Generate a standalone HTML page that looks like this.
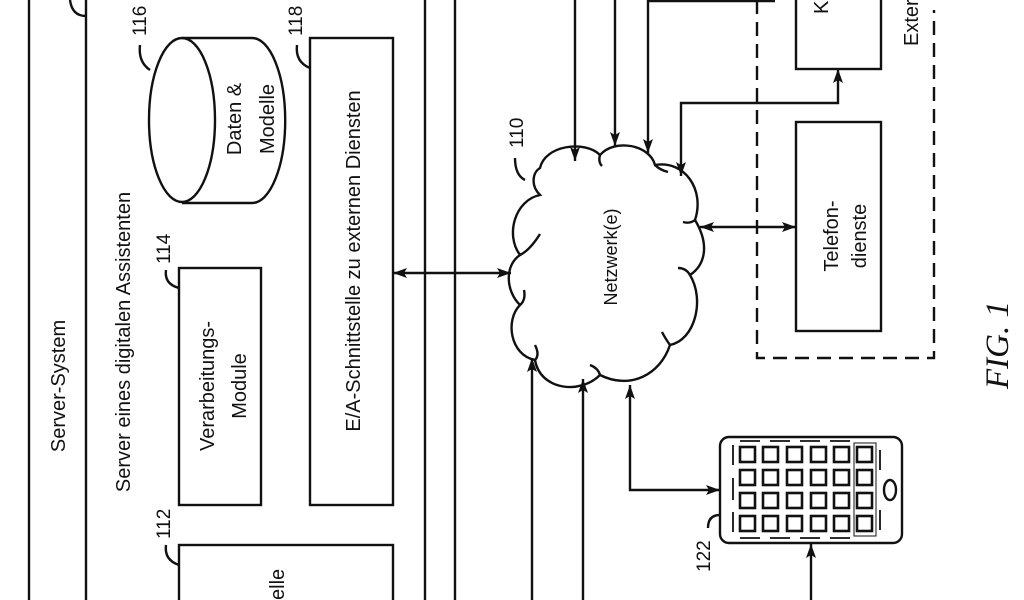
<!DOCTYPE html>
<html><head><meta charset="utf-8"><style>
html,body{margin:0;padding:0;background:#fff;}
svg{display:block;}
text{font-family:"Liberation Sans",sans-serif;fill:#111;}
</style></head><body>
<svg width="1024" height="600" viewBox="0 0 1024 600" xmlns="http://www.w3.org/2000/svg">
<defs>
<marker id="a" viewBox="0 0 14 10" refX="14" refY="5" markerWidth="14" markerHeight="10" markerUnits="userSpaceOnUse" orient="auto-start-reverse">
<path d="M0,0 L14,5 L0,10 L3,5 z" fill="#111"/></marker>
</defs>
<g stroke="#111" stroke-width="2.4" fill="none">
<line x1="29" y1="0" x2="29" y2="600"/>
<line x1="86" y1="0" x2="86" y2="600"/>
<path d="M70,0 Q72,16 86,16"/>
<line x1="425" y1="0" x2="425" y2="600"/>
<line x1="455" y1="0" x2="455" y2="600"/>
<path d="M182,38 L252,38 A33,82 0 0 1 252,203 L182,203"/>
<ellipse cx="182" cy="120" rx="33" ry="82"/>
<path d="M150,70 Q138,62 140,45"/>
<rect x="179" y="268" width="82" height="237"/>
<path d="M179,288 Q164,284 166,270"/>
<rect x="310" y="38" width="83" height="467"/>
<path d="M310,68 Q295,62 297,45"/>
<rect x="179" y="545" width="214" height="70"/>
<path d="M179,565 Q164,560 166,545"/>
<line x1="393" y1="273" x2="511" y2="273" marker-start="url(#a)" marker-end="url(#a)"/>
<path d="M540,168 C545,145 585,140 600,155 C615,138 650,145 655,165 C685,160 705,190 695,220 C710,245 705,265 690,275 C705,300 695,340 670,345 C660,375 630,390 600,375 C580,395 540,390 535,360 C510,355 505,320 520,305 C505,290 505,265 520,255 C505,235 515,200 540,195 C530,185 533,172 540,168 Z"/>
<path d="M600,155 Q598,162 602,166"/>
<path d="M655,165 Q660,170 668,172"/>
<path d="M695,220 Q690,224 683,222"/>
<path d="M690,275 Q686,268 678,268"/>
<path d="M670,345 Q665,338 662,332"/>
<path d="M600,375 Q598,368 590,365"/>
<path d="M535,360 Q540,355 535,345"/>
<path d="M520,305 Q526,300 524,290"/>
<path d="M520,255 Q530,250 540,234"/>
<path d="M525,180 Q515,175 515,158"/>
<line x1="575" y1="0" x2="575" y2="161" marker-end="url(#a)"/>
<line x1="615" y1="0" x2="615" y2="146" marker-end="url(#a)"/>
<polyline points="775,1 648,1 648,153" marker-end="url(#a)"/>
<polyline points="681,176 681,103 838,103 838,69" marker-start="url(#a)" marker-end="url(#a)"/>
<line x1="700" y1="227" x2="796" y2="227" marker-start="url(#a)" marker-end="url(#a)"/>
<path d="M757,0 L757,358 L934,358 L934,10" stroke-dasharray="14,8"/>
<rect x="796" y="-5" width="85" height="74"/>
<rect x="796" y="122" width="85" height="209"/>
<line x1="532" y1="600" x2="532" y2="358" marker-end="url(#a)"/>
<line x1="583" y1="600" x2="583" y2="379" marker-end="url(#a)"/>
<polyline points="720,490 630,490 630,385" marker-start="url(#a)" marker-end="url(#a)"/>
<line x1="811" y1="600" x2="811" y2="544" marker-end="url(#a)"/>
<rect x="720" y="437" width="182" height="106" rx="9"/>
<g stroke-width="2.6">
<rect x="740" y="447" width="15" height="15"/><rect x="763" y="447" width="15" height="15"/><rect x="787" y="447" width="15" height="15"/><rect x="811" y="447" width="15" height="15"/><rect x="834" y="447" width="15" height="15"/><rect x="857" y="447" width="15" height="15"/>
<rect x="740" y="470" width="15" height="15"/><rect x="763" y="470" width="15" height="15"/><rect x="787" y="470" width="15" height="15"/><rect x="811" y="470" width="15" height="15"/><rect x="834" y="470" width="15" height="15"/><rect x="857" y="470" width="15" height="15"/>
<rect x="740" y="493" width="15" height="15"/><rect x="763" y="493" width="15" height="15"/><rect x="787" y="493" width="15" height="15"/><rect x="811" y="493" width="15" height="15"/><rect x="834" y="493" width="15" height="15"/><rect x="857" y="493" width="15" height="15"/>
<rect x="740" y="516" width="15" height="15"/><rect x="763" y="516" width="15" height="15"/><rect x="787" y="516" width="15" height="15"/><rect x="811" y="516" width="15" height="15"/><rect x="834" y="516" width="15" height="15"/><rect x="857" y="516" width="15" height="15"/>
</g>
<rect x="854" y="443" width="22" height="93" stroke-width="1"/>
<path d="M733,445 V465 M733,478 V500 M733,512 V532 M880,450 V470 M880,510 V530" stroke-width="1.8"/>
<path d="M740,441 H760 M770,441 H790 M800,441 H820 M830,441 H850 M740,538 H760 M770,538 H790 M800,538 H820 M830,538 H850" stroke-width="1.8"/>
<ellipse cx="890" cy="490" rx="6" ry="10"/>
<path d="M720,515 Q708,515 708,528"/>
</g>
<g font-size="20">
<text transform="translate(65,386) rotate(-90)" text-anchor="middle">Server-System</text>
<text transform="translate(130,342) rotate(-90)" text-anchor="middle">Server eines digitalen Assistenten</text>
<text transform="translate(241,119) rotate(-90)" text-anchor="middle">Daten &amp;</text>
<text transform="translate(274,119) rotate(-90)" text-anchor="middle">Modelle</text>
<text transform="translate(214,386) rotate(-90)" text-anchor="middle">Verarbeitungs-</text>
<text transform="translate(246,386) rotate(-90)" text-anchor="middle">Module</text>
<text transform="translate(360,261) rotate(-90)" text-anchor="middle">E/A-Schnittstelle zu externen Diensten</text>
<text transform="translate(284,600) rotate(-90)" text-anchor="start">elle</text>
<text transform="translate(838,236) rotate(-90)" text-anchor="middle">Telefon-</text>
<text transform="translate(866,236) rotate(-90)" text-anchor="middle">dienste</text>
<text transform="translate(918,46) rotate(-90)" text-anchor="start">Exter</text>
<text transform="translate(828,14) rotate(-90)" text-anchor="start">K</text>
<text transform="translate(617,257) rotate(-90)" text-anchor="middle" font-size="18">Netzwerk(e)</text>
</g>
<g font-size="19">
<text transform="translate(146,36) rotate(-90)" text-anchor="start">116</text>
<text transform="translate(302,36) rotate(-90)" text-anchor="start">118</text>
<text transform="translate(170,264) rotate(-90)" text-anchor="start">114</text>
<text transform="translate(170,539) rotate(-90)" text-anchor="start">112</text>
<text transform="translate(523,148) rotate(-90)" text-anchor="start">110</text>
<text transform="translate(710,572) rotate(-90)" text-anchor="start">122</text>
</g>
<text transform="translate(1008,345) rotate(-90)" text-anchor="middle" style="font-family:'Liberation Serif',serif;font-style:italic;font-size:33px;">FIG. 1</text>
</svg>
</body></html>
